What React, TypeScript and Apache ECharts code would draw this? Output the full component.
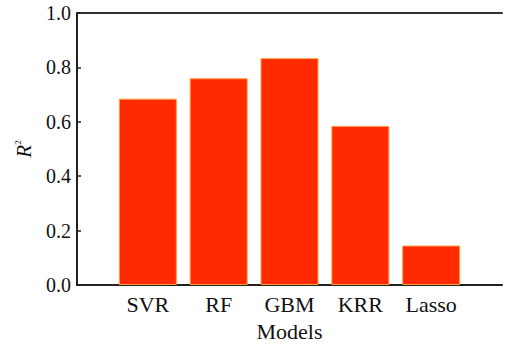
import React, { useEffect, useRef } from "react";
import * as echarts from "echarts";

const models = ["SVR", "RF", "GBM", "KRR", "Lasso"];
const r2Values = [0.685, 0.76, 0.834, 0.585, 0.145];
const yTicks = [0, 0.2, 0.4, 0.6, 0.8, 1.0];

const FONT = "Times New Roman, Liberation Serif, DejaVu Serif, serif";

export default function App() {
  const ref = useRef<HTMLDivElement>(null);
  useEffect(() => {
    if (!ref.current) return;
    const chart = echarts.init(ref.current, undefined, { renderer: "svg" });
    const cats = ["", ...models, ""];
    const data = ["-", ...r2Values, "-"];
    chart.setOption({
      animation: false,
      backgroundColor: "#ffffff",
      textStyle: { fontFamily: FONT },
      grid: { left: 77, top: 13, bottom: 51, right: -6, containLabel: false },
      xAxis: [
        {
          type: "category",
          data: cats,
          boundaryGap: false,
          position: "bottom",
          axisLine: { lineStyle: { color: "#222", width: 2 } },
          axisTick: { show: false },
          axisLabel: {
            fontFamily: FONT,
            fontSize: 22,
            color: "#111",
            margin: 8,
            interval: 0,
          },
          name: "Models",
          nameLocation: "middle",
          nameGap: 35,
          nameTextStyle: { fontFamily: FONT, fontSize: 22, color: "#111" },
          splitLine: { show: false },
        },
        {
          type: "category",
          data: cats,
          boundaryGap: false,
          position: "top",
          axisLine: { lineStyle: { color: "#333", width: 2 } },
          axisTick: { show: false },
          axisLabel: { show: false },
          splitLine: { show: false },
        },
      ],
      yAxis: {
        type: "value",
        min: 0,
        max: 1,
        interval: 0.2,
        axisLine: { show: true, lineStyle: { color: "#222", width: 2 } },
        axisTick: { show: true, inside: true, length: 4, lineStyle: { color: "#222", width: 1.5 } },
        splitLine: { show: false },
        axisLabel: {
          fontFamily: FONT,
          fontSize: 20,
          color: "#111",
          margin: 6,
          formatter: (v: number) => {
            const t = yTicks.find((x) => Math.abs(x - v) < 1e-9);
            return (t !== undefined ? t : v).toFixed(1);
          },
        },
        name: "{i|R}{s|2}",
        nameLocation: "middle",
        nameGap: 43,
        nameRotate: 90,
        nameTextStyle: {
          fontFamily: FONT,
          rich: {
            i: { fontFamily: FONT, fontStyle: "italic", fontSize: 21, color: "#111" },
            s: { fontFamily: FONT, fontSize: 9, color: "#111", verticalAlign: "top", padding: [0, 0, 10, 0] },
          },
        },
      },
      series: [
        {
          type: "bar",
          data,
          barWidth: 58,
          itemStyle: { color: "#ff2a00", borderColor: "#ffa040", borderWidth: 1 },
        },
      ],
    });
    return () => chart.dispose();
  }, []);
  return (
    <div
      ref={ref}
      style={{ position: "fixed", left: 0, top: 0, width: 505, height: 347 }}
    />
  );
}
